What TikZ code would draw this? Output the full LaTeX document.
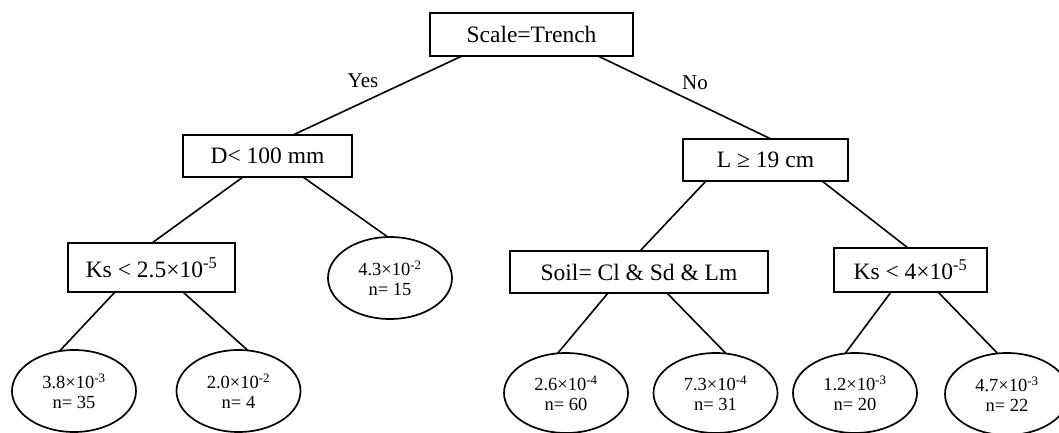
\documentclass[tikz,border=0pt]{standalone}
\usepackage{fontspec}
\setmainfont{Liberation Serif}
\usetikzlibrary{shapes.geometric}

\tikzset{
  test/.style={draw, rectangle, line width=1.7pt, inner sep=0pt, outer sep=0pt,
    font=\fontsize{23.5}{27}\selectfont},
  leaf/.style={draw, ellipse, line width=1.7pt, inner sep=0pt, outer sep=0pt,
    minimum width=124, minimum height=82, align=center,
    font=\fontsize{18.5}{19.5}\selectfont},
  branch/.style={line width=1.6pt},
  answer/.style={font=\fontsize{21}{25}\selectfont}
}

\begin{document}
\begin{tikzpicture}[x=1pt,y=-1pt]
  \clip (0,0) rectangle (1059,433);
  % root split
  \node[test, minimum width=203, minimum height=43] (root) at (531.5,34.5) {Scale=Trench};
  % second level
  \node[test, minimum width=169, minimum height=42] (dia) at (267.5,156) {D< 100 mm};
  \node[test, minimum width=165, minimum height=42] (len) at (765.5,160) {L ≥ 19 cm};
  \draw[branch] ([xshift=-69.5]root.south) -- ([xshift=25.5]dia.north);
  \draw[branch] ([xshift=66.5]root.south) -- ([xshift=5.5]len.north);
  \node[answer] (yes) at (363,81) {Yes};
  \node[answer] (no) at (695,83) {No};
  % under D
  \node[test, minimum width=167, minimum height=49] (ksa) at (151.5,267.5) {Ks < 2.5×10\textsuperscript{-5}};
  \node[leaf] (l43) at (390,278) {4.3×10\textsuperscript{-2}\\n= 15};
  \draw[branch] ([xshift=-24.5]dia.south) -- ([xshift=0.5]ksa.north);
  \draw[branch] ([xshift=35.5]dia.south) -- (l43.93);
  % under L
  \node[test, minimum width=258, minimum height=42] (soil) at (639,272) {Soil= Cl \& Sd \& Lm};
  \node[test, minimum width=153, minimum height=44] (ksb) at (910.5,270) {Ks < 4×10\textsuperscript{-5}};
  \draw[branch] ([xshift=-59.5]len.south) -- ([xshift=1]soil.north);
  \draw[branch] ([xshift=56.5]len.south) -- ([xshift=-2.5]ksb.north);
  % leaves
  \node[leaf] (l38) at (74,391) {3.8×10\textsuperscript{-3}\\n= 35};
  \node[leaf] (l20) at (238.5,391) {2.0×10\textsuperscript{-2}\\n= 4};
  \node[leaf, minimum height=80] (l26) at (566,393) {2.6×10\textsuperscript{-4}\\n= 60};
  \node[leaf, minimum height=80] (l73) at (715.5,393) {7.3×10\textsuperscript{-4}\\n= 31};
  \node[leaf, minimum height=80] (l12) at (855,393) {1.2×10\textsuperscript{-3}\\n= 20};
  \node[leaf] (l47) at (1007,394) {4.7×10\textsuperscript{-3}\\n= 22};
  \draw[branch] ([xshift=-36.5]ksa.south) -- (l38.110);
  \draw[branch] ([xshift=31.5]ksa.south) -- (l20.77);
  \draw[branch] ([xshift=-31]soil.south) -- (l26.102);
  \draw[branch] ([xshift=28]soil.south) -- (l73.75);
  \draw[branch] ([xshift=-19.5]ksb.south) -- (l12.104);
  \draw[branch] ([xshift=27.5]ksb.south) -- (l47.103);
\end{tikzpicture}
\end{document}
